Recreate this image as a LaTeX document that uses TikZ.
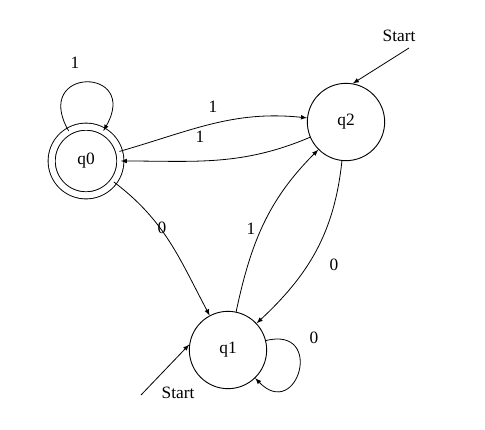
\documentclass[tikz,border=0pt]{standalone}
\usepackage{fontspec}
\setmainfont{Liberation Serif}
\tikzset{
  state/.style={circle,draw,line width=0.7pt,minimum size=58pt,inner sep=0pt},
  accepting/.style={state,double,double distance=4.6pt,minimum size=51.5pt},
  edge/.style={->,>=latex,line width=0.6pt},
  lbl/.style={inner sep=0pt}
}
\begin{document}
\begin{tikzpicture}[x=0.75pt,y=-0.75pt,font=\fontsize{13}{15}\selectfont]
        \useasboundingbox (0,0) rectangle (485,429);
        % estados
        \node[accepting] (q0) at (86,161) {q0};
        \node[state] (q1) at (228,350) {q1};
        \node[state] (q2) at (346,122) {q2};
        % inicio
        \coordinate (s2) at (409,48);
        \coordinate (s1) at (141,395);
        \node[lbl] (t2) at (399,36) {Start};
        \node[lbl] (t1) at (178,393) {Start};
        \draw[edge] (s2) -- (q2.80);
        \draw[edge] (s1) -- (q1.172);
        % transiciones
        \draw[edge] (q0) to[out=120,in=60,looseness=5.5] (q0);
        \draw[edge] (q0) to[out=16,in=174] (q2);
        \draw[edge] (q2) to[out=203,in=0] (q0);
        \draw[edge] (q0) to[out=-37,in=118] (q1);
        \draw[edge] (q1) to[out=78,in=225] (q2);
        \draw[edge] (q2) to[out=264,in=43] (q1);
        \draw[edge] (q1) to[out=14,in=-46,looseness=4] (q1);
        % etiquetas
        \node[lbl] (l1) at (75,63) {1};
        \node[lbl] (l2) at (213,107) {1};
        \node[lbl] (l3) at (200,137) {1};
        \node[lbl] (l4) at (162,228) {0};
        \node[lbl] (l5) at (251,229) {1};
        \node[lbl] (l6) at (334,265) {0};
        \node[lbl] (l7) at (314,338) {0};
\end{tikzpicture}
\end{document}
